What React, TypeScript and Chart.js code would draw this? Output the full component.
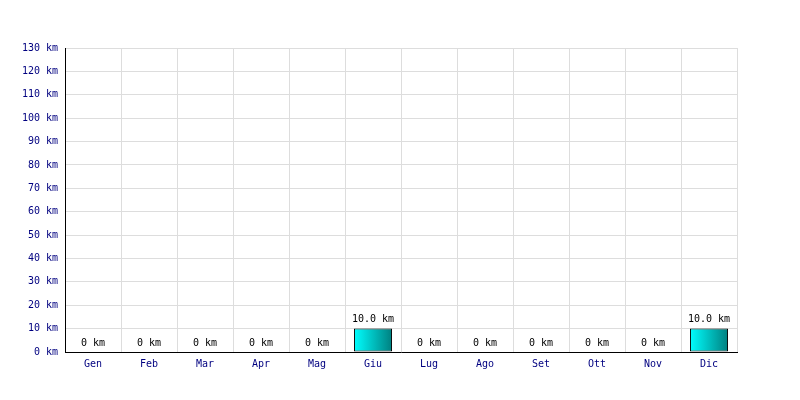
import React, { useEffect, useRef } from "react";
import { Chart, registerables } from "chart.js";

Chart.register(...registerables);

const months = ["Gen", "Feb", "Mar", "Apr", "Mag", "Giu", "Lug", "Ago", "Set", "Ott", "Nov", "Dic"];
const distances = [0, 0, 0, 0, 0, 10, 0, 0, 0, 0, 0, 10];
const yMax = 130;
const yStep = 10;

const FONT = "'DejaVu Sans Mono', monospace";
const CAT_PCT = 0.68;

const valueLabels = {
  id: "valueLabels",
  afterDatasetsDraw(chart: any) {
    const ctx = chart.ctx;
    const meta = chart.getDatasetMeta(0);
    ctx.save();
    ctx.font = `10px ${FONT}`;
    ctx.fillStyle = "#000000";
    ctx.textAlign = "center";
    ctx.textBaseline = "bottom";
    meta.data.forEach((bar: any, i: number) => {
      const v = distances[i];
      const txt = v === 0 ? "0 km" : v.toFixed(1) + " km";
      ctx.fillText(txt, bar.x, bar.y - 4);
    });
    ctx.restore();
  },
};

export default function App() {
  const ref = useRef<HTMLCanvasElement>(null);
  useEffect(() => {
    if (!ref.current) return;
    const chart = new Chart(ref.current, {
      type: "bar",
      data: {
        labels: months,
        datasets: [
          {
            data: distances,
            categoryPercentage: CAT_PCT,
            barPercentage: 1,
            borderColor: "#000000",
            borderWidth: 1,
            borderSkipped: false,
            backgroundColor: (c: any) => {
              const ch = c.chart;
              const xs = ch.scales?.x;
              if (!xs || c.dataIndex === undefined) return "#00cccc";
              const cx = xs.getPixelForValue(c.dataIndex);
              const w = (xs.width / months.length) * CAT_PCT;
              if (!isFinite(cx) || !isFinite(w) || w <= 0) return "#00cccc";
              const g = ch.ctx.createLinearGradient(cx - w / 2, 0, cx + w / 2, 0);
              g.addColorStop(0, "#00ffff");
              g.addColorStop(1, "#008080");
              return g;
            },
          },
        ],
      },
      options: {
        animation: false,
        responsive: false,
        maintainAspectRatio: false,
        layout: { padding: { left: 0, right: 63, top: 48, bottom: 28 } },
        plugins: { legend: { display: false }, tooltip: { enabled: false } },
        scales: {
          x: {
            grid: { color: "#dddddd", offset: true, drawTicks: false },
            border: { color: "#000000", width: 1 },
            ticks: { color: "#000080", font: { family: FONT, size: 10 }, padding: 6 },
            afterFit: (s: any) => {
              s.height = 20;
            },
          },
          y: {
            min: 0,
            max: yMax,
            grid: { color: "#dddddd", drawTicks: false },
            border: { color: "#000000", width: 1 },
            ticks: {
              stepSize: yStep,
              color: "#000080",
              font: { family: FONT, size: 10 },
              padding: 7,
              callback: (v: any) => v + " km",
            },
            afterFit: (s: any) => {
              s.width = 65;
            },
          },
        },
      },
      plugins: [valueLabels],
    });
    chart.update();
    return () => chart.destroy();
  }, []);
  return (
    <div style={{ position: "fixed", left: 0, top: 0, width: 800, height: 400, background: "#ffffff" }}>
      <canvas ref={ref} width={800} height={400} style={{ width: 800, height: 400 }} />
    </div>
  );
}
